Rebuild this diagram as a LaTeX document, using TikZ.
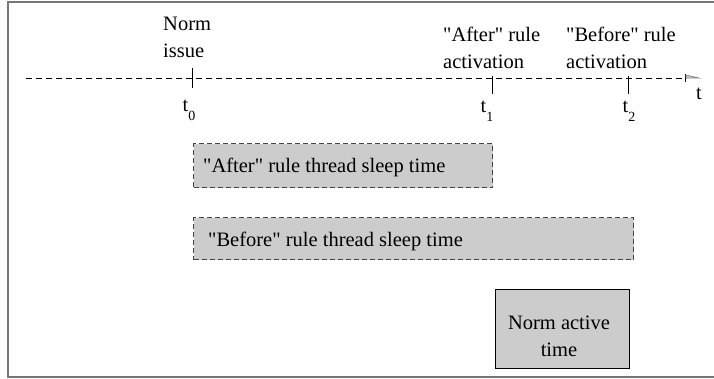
\documentclass[tikz,border=0pt]{standalone}
\usepackage{fontspec}
\setmainfont{Liberation Serif}[Ligatures=TeXOff]
\usetikzlibrary{arrows.meta}
\definecolor{boxgray}{HTML}{CCCCCC}
\definecolor{framegray}{HTML}{777777}
\definecolor{edgegray}{HTML}{444444}
\newcommand{\tsub}[1]{t\raisebox{-0.42em}{\fontsize{14}{14}\selectfont #1}}
\newcommand{\dq}{{\char34}}
\begin{document}
\begin{tikzpicture}[x=1pt,y=-1pt,
  every node/.style={font=\fontsize{20.5}{27}\selectfont, inner sep=0pt},
  label/.style={anchor=base west, align=left},
  ticklabel/.style={anchor=base},
  sleepbox/.style={draw=edgegray, fill=boxgray, line width=1.1pt, dash pattern=on 5pt off 3pt},
  activebox/.style={draw=black, fill=boxgray, line width=1.4pt},
  axisline/.style={dashed, dash pattern=on 6pt off 4pt, line width=0.9pt},
  tickmark/.style={line width=0.9pt}]
\useasboundingbox (0,0) rectangle (714,379);
% outer frame (left, top and bottom edges)
\draw[framegray, line width=2pt] (730,2) -- (8,2) -- (8,377) -- (730,377);

% time axis
\coordinate (axstart) at (26,78);
\coordinate (axend) at (686,78);
\coordinate (tip) at (699,78);
\draw[axisline] (axstart) -- (axend);
\draw[tickmark] (685,74) -- (685,82);
\draw[draw=gray, fill=boxgray, line width=0.6pt] (axend) -- (tip) -- (686,75) -- cycle;
\node[anchor=base west] (tlab) at (696,100) {t};

% instants on the axis
\coordinate (t0) at (192,78);
\coordinate (t1) at (492,78);
\coordinate (t2) at (628,78);
\draw[tickmark] (192,68) -- (192,88);
\draw[tickmark] (492,76) -- (492,94);
\draw[tickmark] (628,76) -- (628,94);
\node[ticklabel] (t0lab) at (189,112) {\tsub{0}};
\node[ticklabel] (t1lab) at (487,113) {\tsub{1}};
\node[ticklabel] (t2lab) at (629,113) {\tsub{2}};

% event captions (base anchor sits on the last line)
\node[label] (issue) at (163,58) {Norm\\issue};
\node[label] (afteract) at (443,69) {\dq After\dq{} rule\\activation};
\node[label] (beforeact) at (566,69) {\dq Before\dq{} rule\\activation};

% durations
\node[sleepbox, minimum width=299pt, minimum height=44pt, anchor=north west] (aftersleep) at (193,143) {};
\node[anchor=base west] (aftertext) at (203,173) {\dq After\dq{} rule thread sleep time};
\node[sleepbox, minimum width=440pt, minimum height=42pt, anchor=north west] (beforesleep) at (193,217) {};
\node[anchor=base west] (beforetext) at (208,247) {\dq Before\dq{} rule thread sleep time};
\node[activebox, minimum width=134pt, minimum height=79pt, anchor=north west] (active) at (495,289) {};
\node[anchor=base, align=center] (activetext) at (559,356) {Norm active\\time};
\end{tikzpicture}
\end{document}
